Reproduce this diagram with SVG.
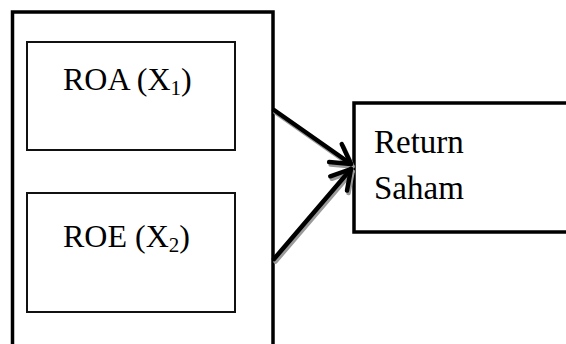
<svg xmlns="http://www.w3.org/2000/svg" width="566" height="344" viewBox="0 0 566 344">
  <style>
    .outer { fill: #fff; stroke: #000; stroke-width: 3.5; }
    .box { fill: #fff; stroke: #111; stroke-width: 2; }
    .lbl { font-family: "Liberation Serif", "Times New Roman", serif; font-size: 32px; fill: #000; }
    .big { font-size: 33px; }
    .sub { font-size: 21px; }
    .conn { fill: none; stroke: #000; stroke-width: 4.5; stroke-linecap: round; }
    .shadow { fill: none; stroke: #9a9a9a; stroke-width: 4.5; stroke-linecap: round; }
  </style>
  <defs>
    <marker id="arrow" markerUnits="userSpaceOnUse" markerWidth="40" markerHeight="40" refX="0" refY="0" orient="auto" overflow="visible">
      <path d="M-19,-11 L0,0 L-19,11" fill="none" stroke="#000" stroke-width="4.5" stroke-linecap="round" stroke-linejoin="round"/>
    </marker>
    <marker id="arrowShadow" markerUnits="userSpaceOnUse" markerWidth="40" markerHeight="40" refX="0" refY="0" orient="auto" overflow="visible">
      <path d="M-19,-11 L0,0 L-19,11" fill="none" stroke="#9a9a9a" stroke-width="4.5" stroke-linecap="round" stroke-linejoin="round"/>
    </marker>
  </defs>
  <rect width="566" height="344" fill="#fff"/>

  <g id="group-x">
    <rect class="outer" x="12.5" y="12" width="260.5" height="345"/>
  </g>

  <g id="node-roa">
    <rect class="box" x="27" y="42" width="208" height="108"/>
    <text class="lbl" x="63" y="90">ROA (X<tspan class="sub" dy="5">1</tspan><tspan dy="-5">)</tspan></text>
  </g>

  <g id="node-roe">
    <rect class="box" x="27" y="193" width="208" height="119"/>
    <text class="lbl" x="63" y="247">ROE (X<tspan class="sub" dy="5">2</tspan><tspan dy="-5">)</tspan></text>
  </g>

  <g id="node-return">
    <rect class="outer" x="354" y="103" width="230" height="129"/>
    <text class="lbl big" x="374" y="153">Return</text>
    <text class="lbl big" x="374" y="199">Saham</text>
  </g>

  <g id="connectors">
    <g transform="translate(1.5,2.5)">
      <line class="shadow" x1="274" y1="110" x2="351" y2="164" marker-end="url(#arrowShadow)"/>
      <line class="shadow" x1="274" y1="259" x2="351" y2="169" marker-end="url(#arrowShadow)"/>
    </g>
    <line class="conn" x1="274" y1="110" x2="351" y2="164" marker-end="url(#arrow)"/>
    <line class="conn" x1="274" y1="259" x2="351" y2="169" marker-end="url(#arrow)"/>
  </g>
</svg>
